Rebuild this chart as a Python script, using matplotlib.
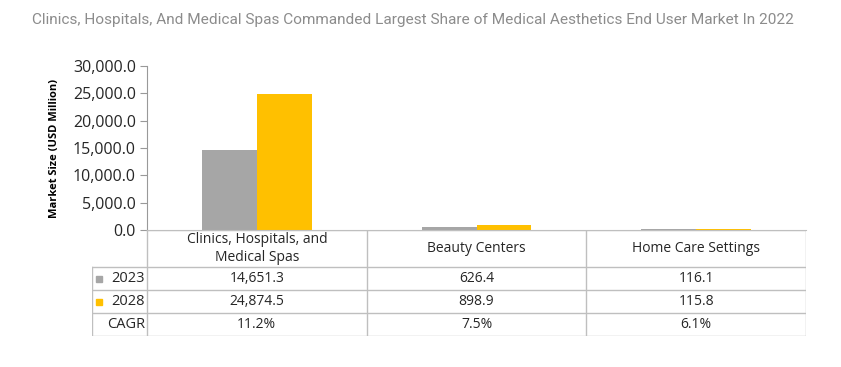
import matplotlib.pyplot as plt
from matplotlib.lines import Line2D

# ==============================
# DATOS
# ==============================

categorias = ["Clinics, Hospitals, and\nMedical Spas", "Beauty Centers", "Home Care Settings"]
valores_2023 = [14651.3, 626.4, 116.1]
valores_2028 = [24874.5, 898.9, 115.8]
cagr = ["11.2%", "7.5%", "6.1%"]
ticks_y = [0, 5000, 10000, 15000, 20000, 25000, 30000]

titulo = "Clinics, Hospitals, And Medical Spas Commanded Largest Share of Medical Aesthetics End User Market In 2022"

color_2023 = "#a6a6a6"
color_2028 = "#ffc000"
color_linea = "#bfbfbf"
fuente = "Open Sans"

W, H = 841, 367
fig = plt.figure(figsize=(W / 100, H / 100), dpi=100)

fig.text(0.5 - 8 / W, 1 - 20 / H, titulo, ha="center", va="center", color="#8c8c8c",
         fontsize=11.1, family=["Roboto", "DejaVu Sans"])

# ==============================
# GRAFICO DE BARRAS
# ==============================

x0, x1 = 147, 806
y0, y1 = 230, 66
ax = fig.add_axes([x0 / W, 1 - y0 / H, (x1 - x0) / W, (y0 - y1) / H])

ancho = 0.25
pos = list(range(len(categorias)))
ax.bar([p - ancho / 2 for p in pos], valores_2023, width=ancho, color=color_2023)
ax.bar([p + ancho / 2 for p in pos], valores_2028, width=ancho, color=color_2028)

ax.set_xlim(-0.5, 2.5)
ax.set_ylim(0, 30000)
ax.set_yticks(ticks_y)
ax.set_yticklabels([f"{v:,.1f}" for v in ticks_y], family=fuente, fontsize=11.5,
                   color="#262626")
ax.set_xticks([])
for lado in ["top", "right"]:
    ax.spines[lado].set_visible(False)
ax.spines["left"].set_color("#999999")
ax.spines["bottom"].set_color(color_linea)
ax.tick_params(axis="y", length=5, color="#999999", pad=3)
ax.set_ylabel("Market Size (USD Million)", family=fuente, fontsize=8,
              fontweight="bold", labelpad=9)

# ==============================
# TABLA DE DATOS
# ==============================

t0, t1 = 92, 336
tab = fig.add_axes([t0 / W, 1 - t1 / H, (x1 - t0) / W, (t1 - y0) / H])
tab.set_xlim(-0.5 - (x0 - t0) / ((x1 - x0) / 3), 2.5)
tab.set_ylim(t1, y0)
tab.axis("off")

izq = tab.get_xlim()[0]
filas = [230, 267, 290, 313, 336]

# lineas horizontales
tab.add_line(Line2D([-0.5, 2.5], [filas[0], filas[0]], color=color_linea, lw=1))
for yy in filas[1:]:
    tab.add_line(Line2D([izq, 2.5], [yy, yy], color=color_linea, lw=1))
# lineas verticales
for xx in [-0.5, 0.5, 1.5, 2.5]:
    tab.add_line(Line2D([xx, xx], [filas[0], filas[-1]], color=color_linea, lw=1))
tab.add_line(Line2D([izq, izq], [filas[1], filas[-1]], color=color_linea, lw=1))

# encabezados
for p, cat in zip(pos, categorias):
    tab.text(p, (filas[0] + filas[1]) / 2, cat, ha="center", va="center",
             family=fuente, fontsize=10, linespacing=1.2, color="#262626")

# filas de valores
datos_filas = [
    [f"{v:,.1f}" for v in valores_2023],
    [f"{v:,.1f}" for v in valores_2028],
    cagr,
]
etiquetas = ["2023", "2028", "CAGR"]
colores_marca = [color_2023, color_2028, None]

for i, (etq, fila, col) in enumerate(zip(etiquetas, datos_filas, colores_marca)):
    yc = (filas[i + 1] + filas[i + 2]) / 2
    tab.text(-0.51, yc, etq, ha="right", va="center", family=fuente, fontsize=10.5,
             color="#262626")
    if col:
        tab.plot([izq + 0.03], [yc], marker="s", ms=5, color=col, ls="none")
    for p, val in zip(pos, fila):
        tab.text(p, yc, val, ha="center", va="center", family=fuente, fontsize=10,
                 color="#262626")

plt.savefig("out.png", dpi=100)
